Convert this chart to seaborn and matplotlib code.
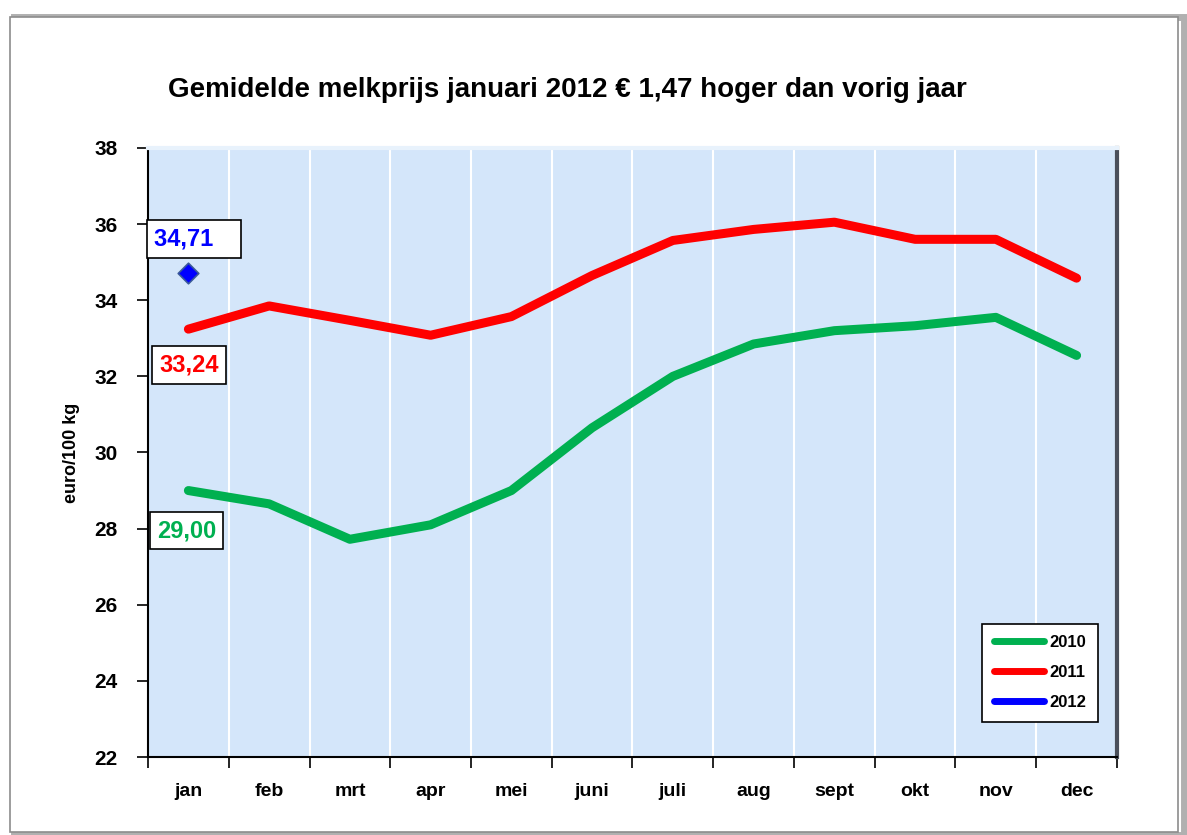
import numpy as np
import pandas as pd
import matplotlib.pyplot as plt
import seaborn as sns
from matplotlib.lines import Line2D
from matplotlib.patches import Rectangle

# data
months = ["jan", "feb", "mrt", "apr", "mei", "juni", "juli", "aug", "sept", "okt", "nov", "dec"]
prices_2010 = [29.00, 28.65, 27.72, 28.10, 29.00, 30.65, 32.00, 32.85, 33.20, 33.33, 33.55, 32.55]
prices_2011 = [33.24, 33.85, 33.47, 33.08, 33.57, 34.65, 35.57, 35.86, 36.05, 35.60, 35.60, 34.58]
prices_2012 = [34.71]
years = ["2010", "2011", "2012"]
year_colors = {"2010": "#00B050", "2011": "#FF0000", "2012": "#0000FF"}

df = pd.DataFrame({
    "month": months * 2,
    "pos": list(range(12)) * 2,
    "price": prices_2010 + prices_2011,
    "year": ["2010"] * 12 + ["2011"] * 12,
})
df12 = pd.DataFrame({"pos": [0], "price": prices_2012, "year": ["2012"]})

sns.set_style("white")
plt.rcParams['font.family'] = ['Liberation Sans', 'DejaVu Sans']
plt.rcParams['text.color'] = 'black'
plt.rcParams['xtick.color'] = 'black'
plt.rcParams['ytick.color'] = 'black'
plt.rcParams['axes.labelcolor'] = 'black'

fig = plt.figure(figsize=(11.87, 8.35), dpi=100)
ax = fig.add_axes([0.1247, 0.0934, 0.8163, 0.7294])
ax.set_zorder(3)

# outer chart frame with a bit of shadow
fig.patches.append(Rectangle((14 / 1187, 0.0), 1170 / 1187, 818 / 835, transform=fig.transFigure,
                             facecolor="none", edgecolor="#b0b0b0", linewidth=5, zorder=0))
fig.patches.append(Rectangle((10 / 1187, 0.004), 1168 / 1187, 815 / 835, transform=fig.transFigure,
                             facecolor="white", edgecolor="#8c8c8c", linewidth=1.2, zorder=0.5))

ax.set_facecolor("#D4E6FA")

sns.lineplot(data=df, x="pos", y="price", hue="year", palette=year_colors,
             linewidth=6.5, legend=False, ax=ax, solid_capstyle="round")
sns.scatterplot(data=df12, x="pos", y="price", color="#0000FF", marker="D", s=110,
                edgecolor="#3a5a9a", linewidth=1.2, legend=False, ax=ax, zorder=5)

ax.set_xlim(-0.5, 11.5)
ax.set_ylim(22, 38)
ax.set_yticks(np.arange(22, 39, 2))
ax.set_xticks(range(12))
ax.set_xticklabels(months)
ax.set_xticks(np.arange(-0.5, 12, 1), minor=True)
ax.tick_params(axis="x", which="major", length=0, pad=19, labelsize=14)
ax.tick_params(axis="x", which="minor", length=8, width=1.2, color="black", direction="out", bottom=True)
ax.tick_params(axis="y", length=8, width=1.2, direction="out", labelsize=15, left=True, pad=14)
for lab in ax.get_xticklabels() + ax.get_yticklabels():
    lab.set_fontweight("bold")
ax.grid(True, axis="x", which="minor", color="white", linewidth=1.5)
ax.grid(False, axis="y")
ax.grid(False, axis="x", which="major")

ax.spines["left"].set_color("black")
ax.spines["left"].set_linewidth(1.5)
ax.spines["bottom"].set_color("black")
ax.spines["bottom"].set_linewidth(1.5)
ax.spines["top"].set_color("#e8f2fc")
ax.spines["top"].set_linewidth(3)
ax.spines["right"].set_color("#4a4f5a")
ax.spines["right"].set_linewidth(3)

ax.set_xlabel("")
ax.set_ylabel("euro/100 kg", fontsize=13, fontweight="bold", labelpad=10)
fig.text(0.478, 0.892, "Gemidelde melkprijs januari 2012 € 1,47 hoger dan vorig jaar",
         ha="center", va="center", fontsize=20, fontweight="bold")

# value labels for january
box = dict(boxstyle="square,pad=0.3", facecolor="white", edgecolor="black", linewidth=1.2)
ax.text(-0.42, 35.61, "34,71   ", color="#0000FF", fontsize=17, fontweight="bold",
        ha="left", va="center", bbox=box)
ax.text(-0.36, 32.30, "33,24", color="#FF0000", fontsize=17, fontweight="bold",
        ha="left", va="center", bbox=box)
ax.text(-0.39, 27.94, "29,00", color="#00B050", fontsize=17, fontweight="bold",
        ha="left", va="center", bbox=box)

handles = [Line2D([], [], color=year_colors[y], linewidth=5, solid_capstyle="round") for y in years]
leg = ax.legend(handles, years, loc="lower right", bbox_to_anchor=(0.9805, 0.0575),
                borderaxespad=0, frameon=True, fancybox=False, fontsize=12, handlelength=3.0,
                labelspacing=0.9, borderpad=0.7, handletextpad=0.35, framealpha=1)
leg.get_frame().set_edgecolor("black")
leg.get_frame().set_linewidth(1.2)
for t in leg.get_texts():
    t.set_fontweight("bold")

fig.savefig("out.png", dpi=100)
